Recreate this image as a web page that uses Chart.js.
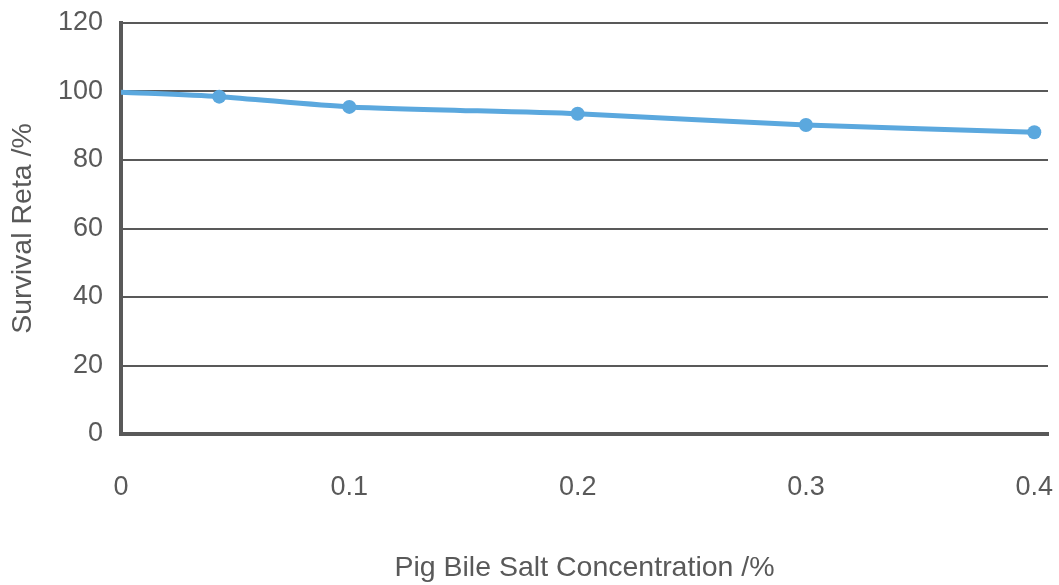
<!DOCTYPE html>
<html>
<head>
<meta charset="utf-8">
<script src="https://cdn.jsdelivr.net/npm/chart.js@4.4.1/dist/chart.umd.min.js"></script>
<style>
  html, body { margin: 0; padding: 0; background: #ffffff; }
  #wrap { width: 1059px; height: 585px; position: relative; }
</style>
</head>
<body>
<div id="wrap"><canvas id="c" width="1059" height="585"></canvas></div>
<script>
// Bile salt concentration (%) and survival rate (%)
const concentration = [0, 0.043, 0.1, 0.2, 0.3, 0.4];
const survivalRate = [99.8, 98.5, 95.5, 93.5, 90.2, 88.1];
const xTicks = [0, 0.1, 0.2, 0.3, 0.4];
const yTicks = [0, 20, 40, 60, 80, 100, 120];

const axisGrey = '#595959';
const lineBlue = '#5BA8DE';
const fontFamily = '"Liberation Sans", Arial, sans-serif';

const points = concentration.map((x, i) => ({ x: x, y: survivalRate[i] }));

new Chart(document.getElementById('c'), {
  type: 'line',
  data: {
    datasets: [{
      data: points,
      borderColor: lineBlue,
      backgroundColor: lineBlue,
      borderWidth: 5,
      pointRadius: [0, 7, 7, 7, 7, 7],
      pointHoverRadius: 7,
      pointBorderWidth: 0,
      tension: 0.25,
      fill: false
    }]
  },
  options: {
    responsive: false,
    animation: false,
    events: [],
    layout: { padding: { top: 23, right: 11, bottom: 0, left: 0 } },
    plugins: { legend: { display: false }, tooltip: { enabled: false } },
    scales: {
      x: {
        type: 'linear',
        min: 0,
        max: 0.406,
        afterBuildTicks: (s) => { s.ticks = xTicks.map(v => ({ value: v })); },
        afterFit: (s) => {
          s.height = 151;
          s.paddingLeft = 0;
          s.paddingRight = 0;
        },
        grid: { display: false, drawTicks: false },
        border: { display: true, color: axisGrey, width: 4 },
        ticks: {
          padding: 37,
          color: axisGrey,
          font: { family: fontFamily, size: 27 },
          maxRotation: 0,
          autoSkip: false,
          callback: (v) => String(Math.round(v * 10) / 10)
        },
        title: {
          display: true,
          text: 'Pig Bile Salt Concentration /%',
          color: axisGrey,
          font: { family: fontFamily, size: 28.5 },
          padding: { top: 40, bottom: 0 }
        }
      },
      y: {
        min: 0,
        max: 120,
        afterBuildTicks: (s) => { s.ticks = yTicks.map(v => ({ value: v })); },
        afterFit: (s) => {
          s.width = 121;
          s.paddingTop = 0;
          s.paddingBottom = 0;
        },
        grid: { display: true, color: axisGrey, lineWidth: 2, drawTicks: false },
        border: { display: true, color: axisGrey, width: 4 },
        ticks: {
          padding: 18,
          color: axisGrey,
          font: { family: fontFamily, size: 27 }
        },
        title: {
          display: true,
          text: 'Survival Reta /%',
          color: axisGrey,
          font: { family: fontFamily, size: 28.5 },
          padding: { top: 6, bottom: 0 }
        }
      }
    }
  }
});
</script>
</body>
</html>
